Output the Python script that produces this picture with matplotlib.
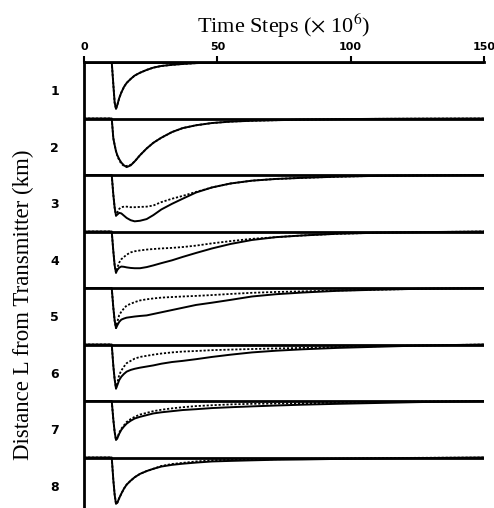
import matplotlib
matplotlib.use("Agg")
import matplotlib.pyplot as plt

plt.rcParams['mathtext.fontset'] = 'stix'

# time grid (x 10^6 steps) shared by all curves
t = [0, 10.4, 11, 11.5, 12, 12.5, 13.2, 14, 15, 16, 17.5, 19, 21, 23.5, 26, 29,
     33, 37, 42, 48, 55, 63, 72, 82, 95, 110, 125, 150]

# depth below each baseline, as a fraction of the panel height
solid = [
    [0, 0, 0.40, 0.72, 0.83, 0.76, 0.64, 0.54, 0.44, 0.37, 0.30, 0.24, 0.19, 0.14, 0.10, 0.07,
     0.05, 0.035, 0.02, 0.01, 0.005, 0, 0, 0, 0, 0, 0, 0],
    [0, 0, 0.35, 0.47, 0.58, 0.65, 0.72, 0.78, 0.83, 0.86, 0.83, 0.76, 0.65, 0.53, 0.43, 0.34,
     0.24, 0.17, 0.12, 0.08, 0.055, 0.04, 0.03, 0.02, 0.012, 0.006, 0.003, 0],
    [0, 0, 0.35, 0.58, 0.72, 0.70, 0.67, 0.68, 0.72, 0.76, 0.80, 0.82, 0.81, 0.78, 0.71, 0.61,
     0.51, 0.42, 0.31, 0.22, 0.15, 0.10, 0.07, 0.05, 0.03, 0.015, 0.008, 0],
    [0, 0, 0.35, 0.60, 0.73, 0.68, 0.64, 0.62, 0.625, 0.635, 0.645, 0.65, 0.65, 0.63, 0.60, 0.56,
     0.51, 0.45, 0.38, 0.30, 0.22, 0.15, 0.10, 0.07, 0.04, 0.022, 0.012, 0],
    [0, 0, 0.35, 0.58, 0.71, 0.66, 0.60, 0.56, 0.54, 0.525, 0.515, 0.505, 0.495, 0.485, 0.46, 0.43,
     0.39, 0.35, 0.30, 0.26, 0.21, 0.15, 0.11, 0.08, 0.05, 0.03, 0.015, 0],
    [0, 0, 0.38, 0.62, 0.78, 0.72, 0.63, 0.57, 0.52, 0.48, 0.45, 0.43, 0.41, 0.39, 0.37, 0.34,
     0.31, 0.29, 0.26, 0.22, 0.18, 0.14, 0.11, 0.085, 0.06, 0.04, 0.02, 0],
    [0, 0, 0.33, 0.55, 0.69, 0.66, 0.58, 0.51, 0.45, 0.40, 0.35, 0.31, 0.28, 0.25, 0.22, 0.20,
     0.18, 0.16, 0.145, 0.125, 0.11, 0.095, 0.08, 0.065, 0.05, 0.035, 0.02, 0],
    [0, 0, 0.40, 0.66, 0.82, 0.80, 0.72, 0.64, 0.55, 0.48, 0.41, 0.35, 0.29, 0.24, 0.20, 0.16,
     0.13, 0.11, 0.09, 0.07, 0.06, 0.05, 0.04, 0.035, 0.025, 0.018, 0.01, 0],
]
dotted = [
    [0, 0, 0.40, 0.72, 0.83, 0.76, 0.64, 0.54, 0.44, 0.37, 0.30, 0.24, 0.19, 0.14, 0.10, 0.07,
     0.05, 0.035, 0.02, 0.01, 0.005, 0, 0, 0, 0, 0, 0, 0],
    [0, 0, 0.35, 0.47, 0.58, 0.66, 0.74, 0.80, 0.84, 0.84, 0.82, 0.76, 0.65, 0.53, 0.43, 0.34,
     0.24, 0.17, 0.12, 0.08, 0.055, 0.04, 0.03, 0.02, 0.012, 0.006, 0.003, 0],
    [0, 0, 0.35, 0.58, 0.72, 0.66, 0.60, 0.57, 0.56, 0.56, 0.57, 0.57, 0.565, 0.56, 0.54, 0.48,
     0.42, 0.37, 0.30, 0.22, 0.15, 0.10, 0.07, 0.05, 0.03, 0.015, 0.008, 0],
    [0, 0, 0.35, 0.60, 0.73, 0.64, 0.55, 0.49, 0.45, 0.41, 0.37, 0.35, 0.335, 0.32, 0.31, 0.30,
     0.29, 0.275, 0.25, 0.21, 0.17, 0.13, 0.10, 0.07, 0.04, 0.022, 0.012, 0],
    [0, 0, 0.35, 0.58, 0.71, 0.60, 0.48, 0.42, 0.36, 0.31, 0.28, 0.25, 0.22, 0.20, 0.185, 0.17,
     0.16, 0.15, 0.14, 0.125, 0.105, 0.085, 0.07, 0.06, 0.045, 0.03, 0.015, 0],
    [0, 0, 0.38, 0.62, 0.78, 0.68, 0.54, 0.46, 0.39, 0.33, 0.29, 0.25, 0.22, 0.20, 0.18, 0.16,
     0.14, 0.125, 0.115, 0.10, 0.09, 0.08, 0.07, 0.06, 0.045, 0.03, 0.02, 0],
    [0, 0, 0.33, 0.55, 0.69, 0.65, 0.56, 0.49, 0.43, 0.37, 0.32, 0.28, 0.24, 0.21, 0.18, 0.155,
     0.13, 0.11, 0.09, 0.075, 0.06, 0.05, 0.045, 0.04, 0.03, 0.02, 0.012, 0],
    [0, 0, 0.40, 0.66, 0.82, 0.80, 0.72, 0.64, 0.55, 0.48, 0.41, 0.35, 0.29, 0.24, 0.20, 0.15,
     0.115, 0.095, 0.07, 0.05, 0.04, 0.035, 0.03, 0.025, 0.02, 0.012, 0.006, 0],
]
distance_labels = ['1', '2', '3', '4', '5', '6', '7', '8']
x_ticks = [0, 50, 100, 150]

fig = plt.figure(figsize=(4.94, 5.08), dpi=100)
ax = fig.add_axes([84 / 494, 0, 400 / 494, 446 / 508])

for k in range(len(distance_labels)):
    ax.plot(t, [-k - d for d in dotted[k]], color='black', lw=1.3,
            linestyle=(0, (1.2, 1.0)), solid_capstyle='butt')
    ax.plot(t, [-k - d for d in solid[k]], color='black', lw=1.4)
    ax.axhline(-k, color='black', lw=2.0)

ax.set_xlim(0, 150)
ax.set_ylim(-446 / 56.5, 0)

ax.xaxis.tick_top()
ax.xaxis.set_label_position('top')
ax.set_xticks(x_ticks)
ax.set_xticklabels([str(v) for v in x_ticks], fontfamily='DejaVu Sans',
                   fontweight='bold', fontsize=8)
ax.tick_params(axis='x', direction='out', length=4.5, width=1.5, pad=3)
ax.set_xlabel('Time Steps ($\\times$ 10$^6$)', fontfamily='Liberation Serif',
              fontsize=16, labelpad=6)

ax.set_yticks([-k - 0.5 for k in range(len(distance_labels))])
ax.set_yticklabels(distance_labels, fontfamily='DejaVu Sans',
                   fontweight='bold', fontsize=9)
ax.tick_params(axis='y', length=0, pad=18)

for side in ['right', 'bottom']:
    ax.spines[side].set_visible(False)
ax.spines['left'].set_linewidth(2)
ax.spines['top'].set_linewidth(2)

fig.text(23 / 494, 1 - 305 / 508, 'Distance L from Transmitter (km)',
         rotation=90, ha='center', va='center',
         fontfamily='Liberation Serif', fontsize=16.5)

fig.savefig('out.png', dpi=100)
